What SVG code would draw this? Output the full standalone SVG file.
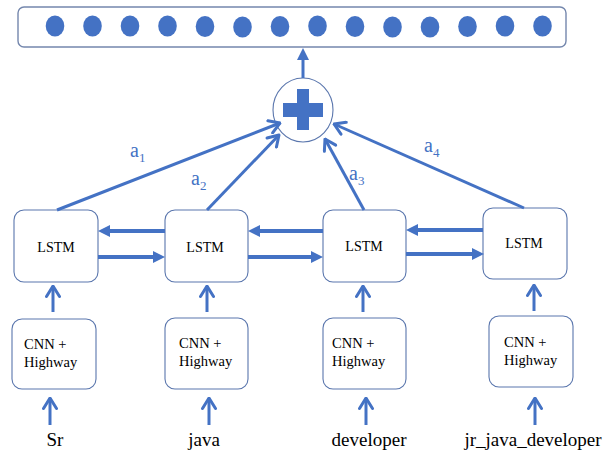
<svg xmlns="http://www.w3.org/2000/svg" width="604" height="456" viewBox="0 0 604 456">
<style>
.box{fill:#fff;stroke:#5a76ad;stroke-width:1.1}
.top{fill:#fff;stroke:#7487ad;stroke-width:1.4}
.dot{fill:#4472C4}
text{font-family:'Liberation Serif','DejaVu Serif','Times New Roman',serif}
.lbl{fill:#000}
.nt{font-size:14px}
.ct{font-size:14.5px}
.wd{font-size:19px;text-anchor:middle}
.att{fill:#4472C4;font-size:20px}
.sub{font-size:13px}
.thin{stroke:#4472C4;stroke-width:3;fill:none;marker-end:url(#open)}
.thick{stroke:#4472C4;stroke-width:4;fill:none;marker-end:url(#tri)}
</style>
<defs>
<marker id="open" markerUnits="userSpaceOnUse" viewBox="0 0 14 16" refX="12.5" refY="8" markerWidth="14" markerHeight="16" orient="auto">
<path d="M2,1.5 L12.5,8 L2,14.5" fill="none" stroke="#4472C4" stroke-width="3" stroke-linecap="round" stroke-linejoin="round"/>
</marker>
<marker id="tri" markerUnits="userSpaceOnUse" viewBox="0 0 12 12" refX="0" refY="6" markerWidth="12" markerHeight="12" orient="auto">
<path d="M0,0 L12,6 L0,12 Z" fill="#4472C4"/>
</marker>
</defs>

<g id="output">
<rect class="top" x="18" y="7" width="548" height="40" rx="6"/>
<ellipse class="dot" cx="55" cy="26" rx="9.3" ry="10.5"/>
<ellipse class="dot" cx="92.5" cy="26" rx="9.3" ry="10.5"/>
<ellipse class="dot" cx="130" cy="26" rx="9.3" ry="10.5"/>
<ellipse class="dot" cx="167.5" cy="26" rx="9.3" ry="10.5"/>
<ellipse class="dot" cx="205" cy="26.5" rx="9.3" ry="10.5"/>
<ellipse class="dot" cx="242.5" cy="27" rx="9.3" ry="10.5"/>
<ellipse class="dot" cx="280" cy="26.5" rx="9.3" ry="10.5"/>
<ellipse class="dot" cx="317.5" cy="26" rx="9.3" ry="10.5"/>
<ellipse class="dot" cx="355" cy="26.5" rx="9.3" ry="10.5"/>
<ellipse class="dot" cx="392.5" cy="27" rx="9.3" ry="10.5"/>
<ellipse class="dot" cx="430" cy="27" rx="9.3" ry="10.5"/>
<ellipse class="dot" cx="467.5" cy="26.5" rx="9.3" ry="10.5"/>
<ellipse class="dot" cx="505" cy="26" rx="9.3" ry="10.5"/>
<ellipse class="dot" cx="542.5" cy="26" rx="9.3" ry="10.5"/>
</g>

<g id="plus">
<ellipse cx="303" cy="110" rx="30" ry="32" fill="#fff" stroke="#5a76ad" stroke-width="1.1"/>
<path d="M297,89 H309 V103 H323 V117 H309 V130 H297 V117 H283 V103 H297 Z" fill="#4472C4"/>
</g>

<g id="lstm1"><rect class="box" x="14" y="210" width="84" height="72" rx="10"/><text class="lbl nt" x="56" y="252" text-anchor="middle">LSTM</text></g>
<g id="lstm2"><rect class="box" x="165" y="210" width="83" height="72" rx="10"/><text class="lbl nt" x="205" y="252" text-anchor="middle">LSTM</text></g>
<g id="lstm3"><rect class="box" x="323" y="210" width="83" height="72" rx="10"/><text class="lbl nt" x="364" y="251" text-anchor="middle">LSTM</text></g>
<g id="lstm4"><rect class="box" x="483" y="208" width="84" height="71" rx="10"/><text class="lbl nt" x="524" y="248" text-anchor="middle">LSTM</text></g>

<g id="cnn1"><rect class="box" x="12" y="319" width="84" height="70" rx="10"/><text class="lbl ct" x="24" y="349">CNN +</text><text class="lbl ct" x="24" y="367">Highway</text></g>
<g id="cnn2"><rect class="box" x="165" y="318" width="83" height="71" rx="10"/><text class="lbl ct" x="179" y="348">CNN +</text><text class="lbl ct" x="179" y="366">Highway</text></g>
<g id="cnn3"><rect class="box" x="323" y="318" width="83" height="71" rx="10"/><text class="lbl ct" x="332" y="348">CNN +</text><text class="lbl ct" x="332" y="366">Highway</text></g>
<g id="cnn4"><rect class="box" x="489" y="316" width="84" height="71" rx="10"/><text class="lbl ct" x="504" y="347">CNN +</text><text class="lbl ct" x="504" y="365">Highway</text></g>

<g id="words">
<text class="lbl wd" x="55" y="446">Sr</text>
<text class="lbl wd" x="204" y="446">java</text>
<text class="lbl wd" x="369" y="446">developer</text>
<text class="lbl wd" x="533" y="446">jr_java_developer</text>
</g>

<g id="connectors">
<line x1="303" y1="78" x2="303" y2="60" stroke="#4472C4" stroke-width="3" marker-end="url(#tri)"/>
<line class="thin" x1="57" y1="210" x2="280" y2="123"/>
<line class="thin" x1="207" y1="210" x2="279" y2="135"/>
<line class="thin" x1="364" y1="210" x2="325" y2="139"/>
<line class="thin" x1="524" y1="208" x2="334" y2="124"/>
<line class="thick" x1="165" y1="231" x2="110" y2="231"/>
<line class="thick" x1="98" y1="257" x2="153" y2="257"/>
<line class="thick" x1="323" y1="231" x2="260" y2="231"/>
<line class="thick" x1="248" y1="257" x2="311" y2="257"/>
<line class="thick" x1="483" y1="230" x2="418" y2="230"/>
<line class="thick" x1="406" y1="254" x2="472" y2="254"/>
<line class="thin" x1="53" y1="312" x2="53" y2="286"/>
<line class="thin" x1="207" y1="312" x2="207" y2="286"/>
<line class="thin" x1="363" y1="312" x2="363" y2="286"/>
<line class="thin" x1="534" y1="311" x2="534" y2="285"/>
<line class="thin" x1="50" y1="425" x2="50" y2="398"/>
<line class="thin" x1="209" y1="425" x2="209" y2="398"/>
<line class="thin" x1="366" y1="425" x2="366" y2="398"/>
<line class="thin" x1="535" y1="425" x2="535" y2="398"/>
</g>

<g id="labels">
<text class="att" x="130" y="157">a<tspan class="sub" dy="5">1</tspan></text>
<text class="att" x="191" y="185">a<tspan class="sub" dy="5">2</tspan></text>
<text class="att" x="349" y="180">a<tspan class="sub" dy="5">3</tspan></text>
<text class="att" x="424" y="152">a<tspan class="sub" dy="5">4</tspan></text>
</g>
</svg>
